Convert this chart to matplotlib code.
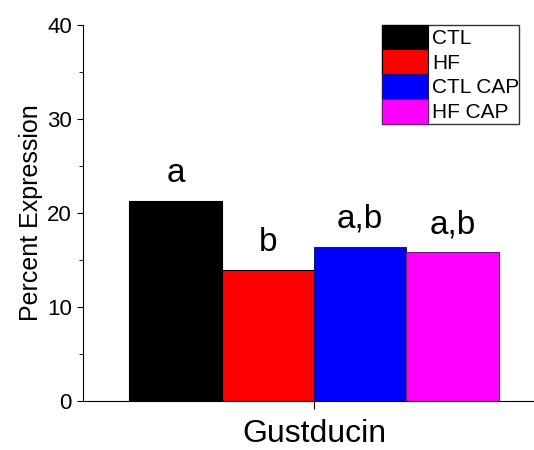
import matplotlib
matplotlib.use("Agg")
import matplotlib.pyplot as plt
from matplotlib.ticker import MultipleLocator

plt.rcParams["font.family"] = ["Liberation Sans", "DejaVu Sans"]

# Gustducin expression per group
groups = ["CTL", "HF", "CTL CAP", "HF CAP"]
values = [21.3, 13.9, 16.4, 15.8]
letters = ["a", "b", "a,b", "a,b"]
colors = ["#000000", "#ff0000", "#0000ff", "#ff00ff"]
edges = ["#000000", "#000000", "#1a1a6e", "#6e1a6e"]
category = "Gustducin"

fig = plt.figure(figsize=(5.34, 4.5), dpi=100)
# axes run past the right edge of the figure (no right spine shown)
ax = fig.add_axes([0.1554, 0.1089, 0.8652, 0.8362])

width = 0.2
offsets = [-0.3, -0.1, 0.1, 0.3]
for off, v, c, e, g, lab in zip(offsets, values, colors, edges, groups, letters):
    ax.bar(1 + off, v, width=width, color=c, edgecolor=e, linewidth=0.8, label=g)
    ax.text(1 + off, v + 2.0, lab, ha="center", va="baseline", fontsize=24)

ax.set_xlim(0.5, 1.5)
ax.set_ylim(0, 40)
ax.set_xticks([1])
ax.set_xticklabels([category], fontsize=23)
ax.yaxis.set_major_locator(MultipleLocator(10))
ax.yaxis.set_minor_locator(MultipleLocator(5))
ax.tick_params(axis="y", which="major", direction="out", length=4.5, labelsize=16)
ax.tick_params(axis="y", which="minor", direction="out", length=3)
ax.tick_params(axis="x", direction="out", length=6, pad=7)
ax.set_ylabel("Percent Expression", fontsize=18, labelpad=3)

ax.spines["top"].set_visible(False)
ax.spines["right"].set_visible(False)

leg = ax.legend(loc="upper right", bbox_to_anchor=(0.944, 1.0), fontsize=15,
                frameon=True, fancybox=False, borderpad=0.0,
                labelspacing=0.0, handlelength=2.2, handleheight=1.45,
                handletextpad=0.2, borderaxespad=0.0)
leg.get_frame().set_edgecolor("#000000")
leg.get_frame().set_linewidth(1.0)

fig.savefig("out.png", dpi=100)
